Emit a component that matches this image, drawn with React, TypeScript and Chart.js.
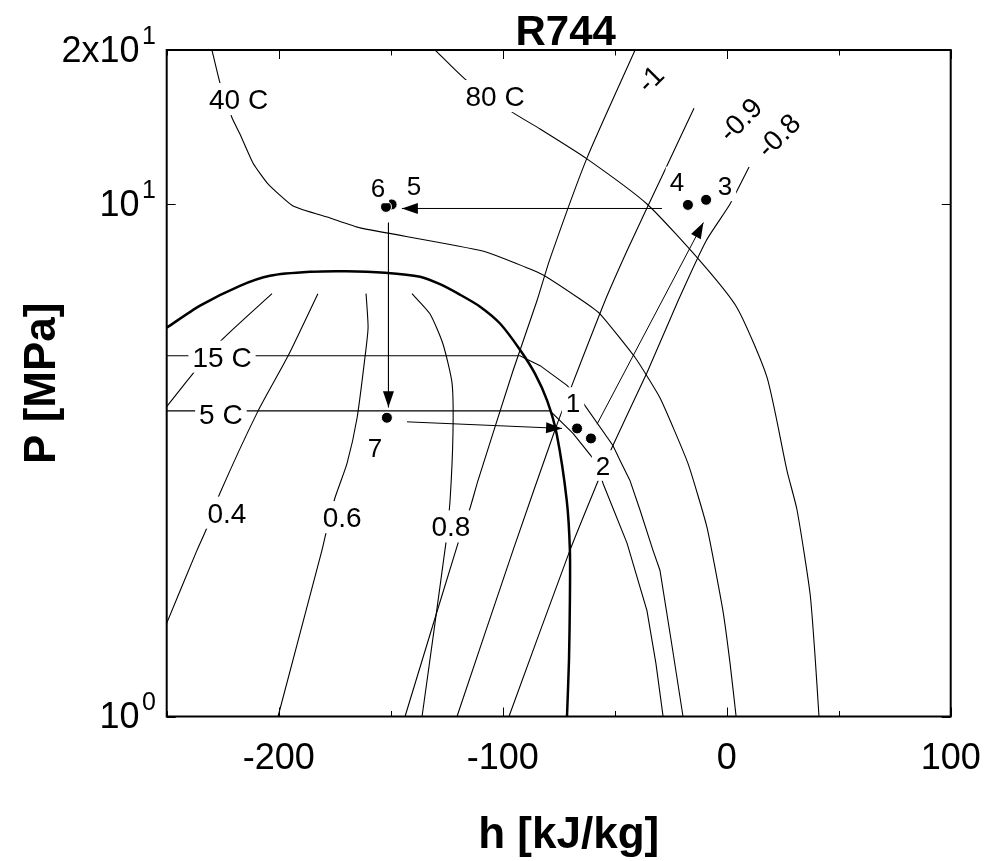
import React, { useEffect, useRef } from "react";
import { Chart, registerables } from "chart.js";

Chart.register(...registerables);

const FONT = '"Liberation Sans", Arial, Helvetica, sans-serif';

// ---- axis ticks ----
const xTickValues = [-250, -200, -150, -100, -50, 0, 50, 100];
const xTickLabels = ["", "-200", "", "-100", "", "0", "", "100"];
const yTickValues = [1, 10, 20];
const yTickBases = ["10", "10", "2x10"];
const yTickExps = ["0", "1", "1"];

// ---- saturation dome (h kJ/kg, P MPa) ----
const domeH = [-250, -235.1, -217.3, -203.9, -186.0, -170.0, -152.5, -136.9, -128.0, -119.1, -110.1, -101.2, -92.3, -85.6, -80.2, -75.9, -71.4, -70.0, -70.0, -70.4, -71.3];
const domeP = [5.74, 6.34, 6.93, 7.25, 7.38, 7.4, 7.35, 7.22, 6.98, 6.66, 6.31, 5.85, 5.2, 4.67, 4.14, 3.56, 2.64, 2.11, 1.69, 1.29, 1.0];

// ---- isotherms ----
const t40H = [-229.8, -226.2, -220.8, -217.3, -211.5, -204.8, -193.6, -177.1, -163.7, -109.4, -82.6, -65.5, -56.6, -40.9, -29.8, -17.3, -8.8, -1.7, 1.5, 4.2];
const t40P = [20, 17.23, 14.73, 13.71, 12.04, 10.96, 9.92, 9.4, 8.99, 8.11, 7.3, 6.53, 6.11, 5.02, 4.19, 3.12, 2.34, 1.61, 1.27, 1.0];
const t80H = [-130.2, -116.8, -95.8, -83.3, -62.4, -35.6, -11.9, 4.6, 18.0, 26.9, 31.4, 37.2, 39.4, 41.2];
const t80P = [20, 17.55, 15.13, 14.02, 12.26, 10.01, 7.75, 6.28, 4.59, 3.02, 2.53, 1.74, 1.32, 1.0];
const t15H = [-250, -92.3, -83.3, -71.3, -64.2, -50.8, -47.6, -43.2, -38.7, -32.9, -29.8, -24.6, -19.5];
const t15P = [5.06, 5.06, 4.84, 4.43, 4.1, 3.38, 3.16, 2.89, 2.53, 2.11, 1.93, 1.39, 1.0];
const t5H = [-250, -78.9, -68.6, -57.9, -55.2, -44.5, -35.6, -31.6, -28.4];
const t5P = [3.95, 3.95, 3.57, 3.12, 2.85, 2.18, 1.61, 1.27, 1.0];

// ---- quality lines ----
const q02H = [-203.0, -225.3, -238.3, -250.3];
const q02P = [6.69, 5.44, 4.67, 4.01];
const q04H = [-182.5, -195.8, -209.2, -226.2, -232.5, -236.5, -250.3];
const q04P = [6.69, 5.06, 3.95, 2.73, 2.31, 2.11, 1.51];
const q06H = [-161.0, -160.1, -161.5, -165.0, -169.5, -174.9, -178.9, -180.7, -200.3];
const q06P = [6.69, 5.74, 5.02, 3.83, 3.12, 2.67, 2.28, 2.11, 1.0];
const q08H = [-140.5, -132.5, -126.7, -122.6, -122.2, -123.5, -125.3, -136.0];
const q08P = [6.69, 6.11, 5.34, 4.47, 3.57, 2.64, 2.19, 1.0];

// ---- isentropes ----
const s10H = [-143.6, -119.8, -114.6, -111.0, -95.4, -84.7, -78.9, -62.4, -40.9];
const s10P = [1.0, 2.19, 2.55, 2.89, 4.73, 6.48, 7.82, 12.3, 20];
const s09H = [-120.4, -95.4, -76.7, -69.1, -54.3, -44.5, -35.6, -28.4, -14.6];
const s09P = [1.0, 2.11, 3.62, 4.43, 6.48, 8.11, 9.83, 11.46, 15.4];
const s08H = [-97.2, -70.0, -57.9, -50.8, -35.6, -21.7, -9.2, 1.5, 10.0];
const s08P = [1.0, 2.11, 2.85, 3.38, 4.69, 6.48, 8.48, 10.01, 11.82];

// ---- cycle states 1..7 ----
const stateNames = ["1", "2", "3", "4", "5", "6", "7"];
const stateH = [-66.8, -60.6, -9.2, -17.3, -149.6, -152.1, -151.7];
const stateP = [3.65, 3.49, 10.2, 9.97, 9.99, 9.88, 3.83];
const stateLabelH = [-68.6, -55.2, -0.8, -22.2, -139.6, -155.7, -157.0];
const stateLabelP = [4.1, 3.09, 10.86, 11.05, 10.86, 10.76, 3.35];

// ---- process arrows ----
const arrow45H = [-28.9, -145.0];
const arrow45P = [9.81, 9.81];
const arrow67H = [-151.0, -151.0];
const arrow67P = [9.2, 4.015];
const arrow71H = [-142.7, -73.5];
const arrow71P = [3.76, 3.65];
const arrow23H = [-57.9, -10.4];
const arrow23P = [3.72, 9.21];

// ---- curve labels ----
const curveLabelText = ["40 C", "80 C", "15 C", "5 C", "0.4", "0.6", "0.8"];
const curveLabelH = [-217.9, -103.4, -225.3, -225.8, -223.1, -171.7, -123.1];
const curveLabelP = [16.04, 16.26, 5.04, 3.89, 2.5, 2.45, 2.35];
const entropyLabelText = ["-1", "-0.9", "-0.8"];
const entropyLabelH = [-34.3, 5.9, 22.9];
const entropyLabelP = [17.6, 14.66, 13.65];

const zip = (h: number[], p: number[]) => h.map((v, i) => ({ x: v, y: p[i] }));

function drawLabel(ctx: CanvasRenderingContext2D, text: string, x: number, y: number, size: number, rot = 0) {
  ctx.save();
  ctx.translate(x, y);
  ctx.rotate(rot);
  ctx.font = `${size}px ${FONT}`;
  const w = ctx.measureText(text).width;
  const h = size * 0.716;
  ctx.fillStyle = "#fff";
  ctx.fillRect(-w / 2 - 4, -h / 2 - 6, w + 8, h + 12);
  ctx.fillStyle = "#000";
  ctx.textAlign = "center";
  ctx.textBaseline = "alphabetic";
  ctx.fillText(text, 0, h / 2);
  ctx.restore();
}

const decor = {
  id: "decor",
  afterDatasetsDraw(chart: any) {
    const ctx: CanvasRenderingContext2D = chart.ctx;
    chart.data.datasets.forEach((ds: any, i: number) => {
      if (!ds.arrow) return;
      const pts = chart.getDatasetMeta(i).data;
      const p1 = pts[pts.length - 2];
      const p2 = pts[pts.length - 1];
      const ang = Math.atan2(p2.y - p1.y, p2.x - p1.x);
      const L = 16;
      const W = 5.5;
      const c = Math.cos(ang);
      const s = Math.sin(ang);
      ctx.save();
      ctx.fillStyle = "#000";
      ctx.beginPath();
      ctx.moveTo(p2.x, p2.y);
      ctx.lineTo(p2.x - L * c + W * s, p2.y - L * s - W * c);
      ctx.lineTo(p2.x - L * c - W * s, p2.y - L * s + W * c);
      ctx.closePath();
      ctx.fill();
      ctx.restore();
    });
  },
  afterDraw(chart: any) {
    const ctx: CanvasRenderingContext2D = chart.ctx;
    const xs = chart.scales.x;
    const ys = chart.scales.y;
    const a = chart.chartArea;

    // labels on curves
    curveLabelText.forEach((t, i) => drawLabel(ctx, t, xs.getPixelForValue(curveLabelH[i]), ys.getPixelForValue(curveLabelP[i]), 28));
    stateNames.forEach((t, i) => drawLabel(ctx, t, xs.getPixelForValue(stateLabelH[i]), ys.getPixelForValue(stateLabelP[i]), 26));
    entropyLabelText.forEach((t, i) => drawLabel(ctx, t, xs.getPixelForValue(entropyLabelH[i]), ys.getPixelForValue(entropyLabelP[i]), 28, -Math.PI / 4));

    ctx.save();
    // frame
    ctx.strokeStyle = "#000";
    ctx.lineWidth = 2;
    ctx.strokeRect(a.left, a.top, a.right - a.left, a.bottom - a.top);
    // ticks (inward)
    ctx.lineWidth = 1;
    ctx.beginPath();
    xTickValues.forEach((v, i) => {
      const px = Math.round(xs.getPixelForValue(v)) + 0.5;
      const len = xTickLabels[i] ? 9 : 5.5;
      ctx.moveTo(px, a.bottom);
      ctx.lineTo(px, a.bottom - len);
      ctx.moveTo(px, a.top);
      ctx.lineTo(px, a.top + len);
    });
    yTickValues.forEach((v) => {
      const py = Math.round(ys.getPixelForValue(v)) + 0.5;
      ctx.moveTo(a.left, py);
      ctx.lineTo(a.left + 9, py);
      ctx.moveTo(a.right, py);
      ctx.lineTo(a.right - 9, py);
    });
    ctx.stroke();

    // tick labels
    ctx.fillStyle = "#000";
    ctx.font = `36px ${FONT}`;
    ctx.textAlign = "center";
    ctx.textBaseline = "alphabetic";
    xTickValues.forEach((v, i) => {
      if (!xTickLabels[i]) return;
      ctx.fillText(xTickLabels[i], xs.getPixelForValue(v), a.bottom + 52);
    });
    yTickValues.forEach((v, i) => {
      const py = ys.getPixelForValue(v) + 11.5;
      ctx.font = `36px ${FONT}`;
      ctx.textAlign = "right";
      ctx.fillText(yTickBases[i], a.left - 27.2, py);
      ctx.font = `25px ${FONT}`;
      ctx.textAlign = "left";
      ctx.fillText(yTickExps[i], a.left - 24.7, py - 18);
    });

    // titles
    const cx = (a.left + a.right) / 2;
    ctx.textAlign = "center";
    ctx.font = `bold 42px ${FONT}`;
    ctx.fillText("R744", cx + 7, a.top - 5);
    ctx.font = `bold 44px ${FONT}`;
    ctx.fillText("h [kJ/kg]", cx + 10, a.bottom + 131);
    ctx.translate(55, (a.top + a.bottom) / 2);
    ctx.rotate(-Math.PI / 2);
    ctx.fillText("P [MPa]", 0, 0);
    ctx.restore();
  },
};

const thin = (data: any[], tension = 0.2) => ({
  data,
  showLine: true,
  borderColor: "#000",
  borderWidth: 1.1,
  pointRadius: 0,
  tension,
  order: 3,
});

export default function App() {
  const ref = useRef<HTMLCanvasElement | null>(null);
  useEffect(() => {
    if (!ref.current) return;
    const arrow = (h: number[], p: number[]) => ({
      data: zip(h, p),
      showLine: true,
      borderColor: "#000",
      borderWidth: 1,
      pointRadius: 0,
      tension: 0,
      order: 1,
      arrow: true,
    });
    const chart = new Chart(ref.current, {
      type: "scatter",
      data: {
        datasets: [
          {
            data: zip(stateH, stateP),
            showLine: false,
            pointRadius: 5.5,
            pointBackgroundColor: "#000",
            pointBorderColor: "#fff",
            pointBorderWidth: 1,
            order: 0,
          },
          arrow(arrow45H, arrow45P),
          arrow(arrow67H, arrow67P),
          arrow(arrow71H, arrow71P),
          arrow(arrow23H, arrow23P),
          { ...thin(zip(domeH, domeP), 0.25), borderWidth: 2.5, order: 2 },
          thin(zip(t40H, t40P), 0.15),
          thin(zip(t80H, t80P), 0.2),
          thin(zip(t15H, t15P), 0),
          thin(zip(t5H, t5P), 0),
          thin(zip(q02H, q02P), 0.2),
          thin(zip(q04H, q04P), 0.2),
          thin(zip(q06H, q06P), 0.2),
          thin(zip(q08H, q08P), 0.2),
          thin(zip(s10H, s10P), 0.2),
          thin(zip(s09H, s09P), 0.2),
          thin(zip(s08H, s08P), 0.2),
        ] as any,
      },
      options: {
        responsive: false,
        animation: false,
        events: [],
        layout: { padding: { left: 166.7, top: 50, right: 34.3, bottom: 144.5 } },
        plugins: { legend: { display: false }, tooltip: { enabled: false }, title: { display: false } },
        scales: {
          x: { type: "linear", min: -250, max: 100, display: false },
          y: { type: "logarithmic", min: 1, max: 20, display: false },
        },
      },
      plugins: [decor],
    });
    return () => chart.destroy();
  }, []);
  return (
    <div style={{ position: "fixed", left: 0, top: 0, width: 985, height: 861, background: "#fff" }}>
      <canvas ref={ref} width={985} height={861} style={{ display: "block" }} />
    </div>
  );
}
